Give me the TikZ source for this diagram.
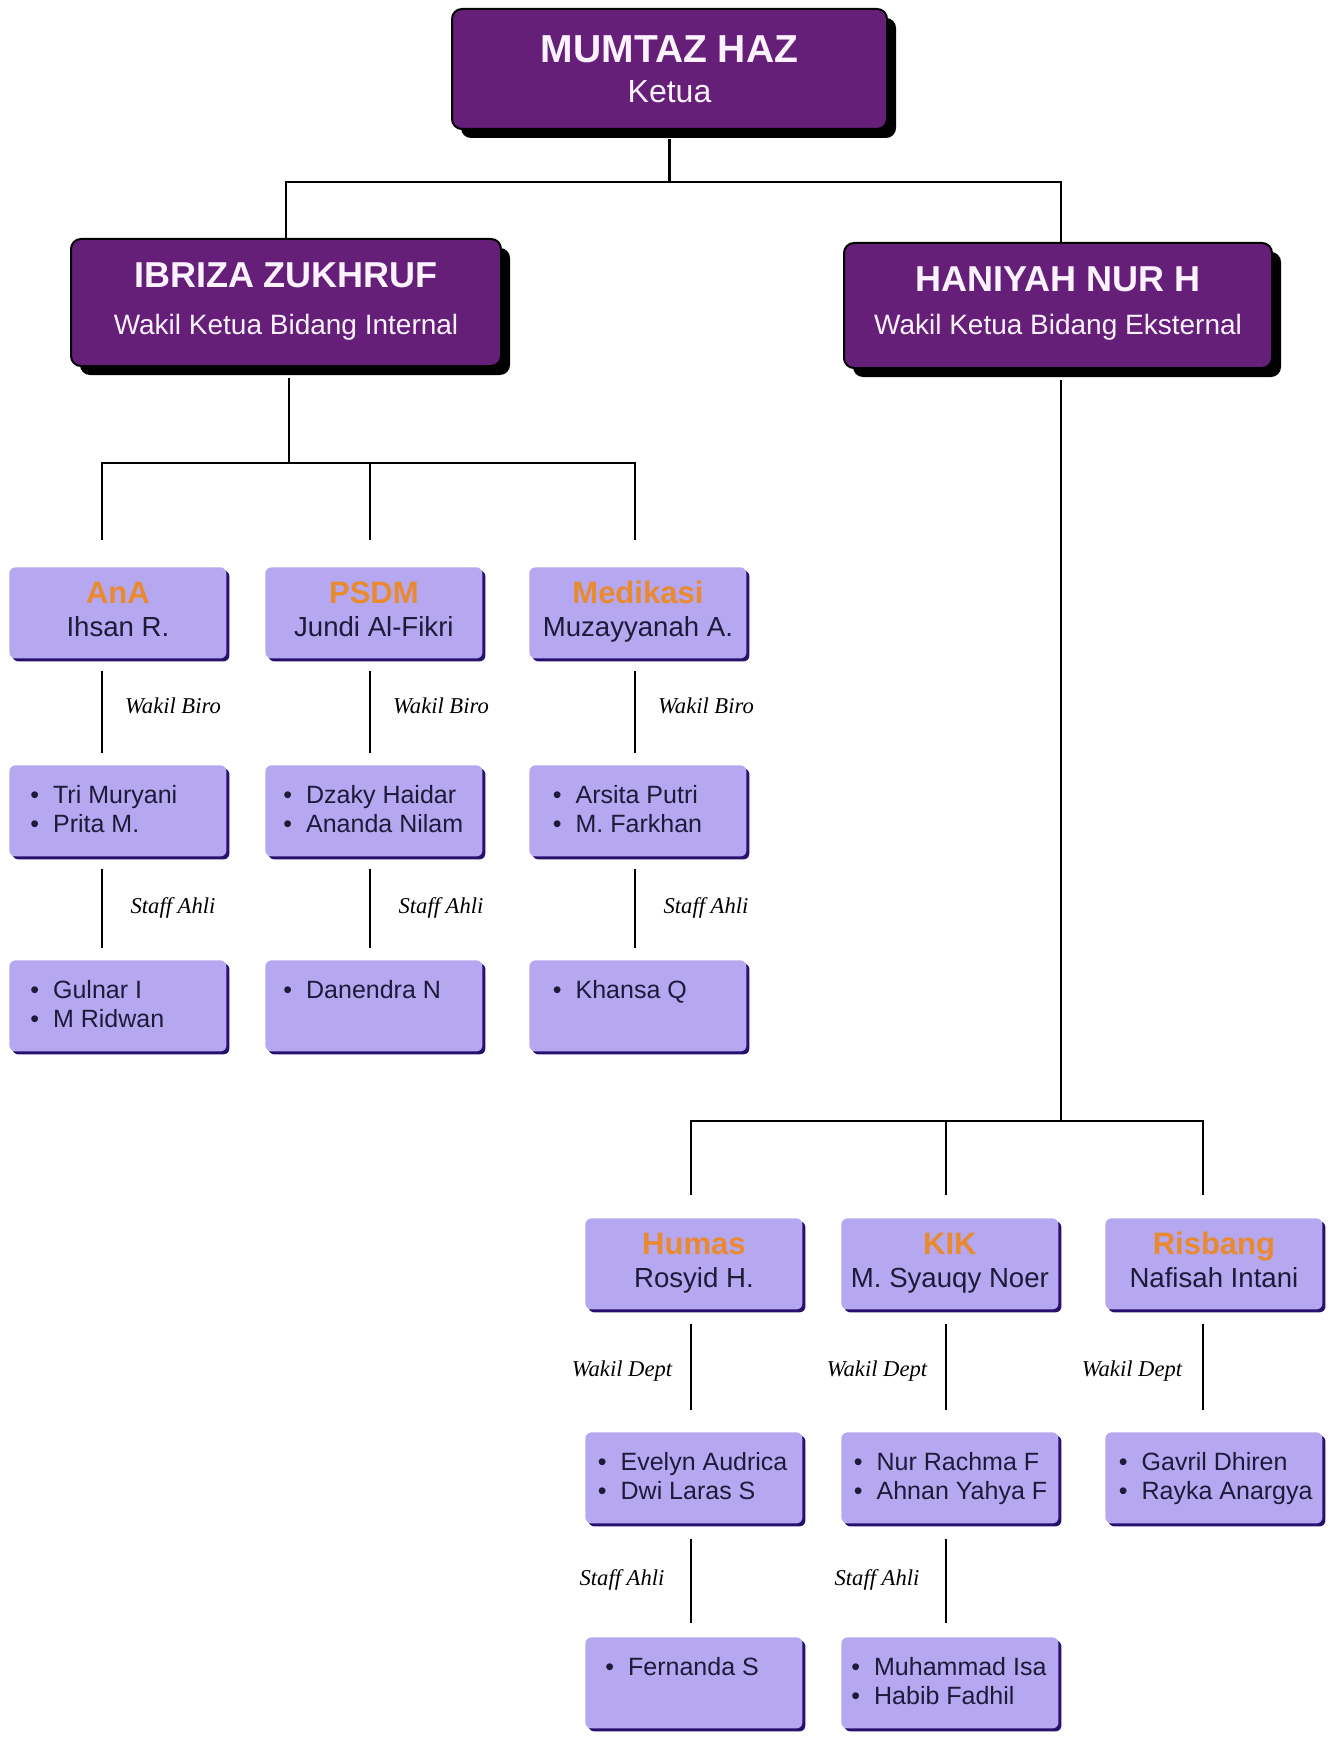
\documentclass[tikz,border=0pt]{standalone}
\usepackage{fontspec}
\setmainfont{Liberation Sans}
\newfontfamily\labfont{Liberation Serif}
\usetikzlibrary{shadows,calc}
\definecolor{purp}{RGB}{101,31,120}
\definecolor{wtext}{RGB}{253,242,255}
\definecolor{lav}{RGB}{181,167,240}
\definecolor{lavsh}{RGB}{40,16,110}
\definecolor{orng}{RGB}{234,138,46}
\definecolor{dtext}{RGB}{30,26,58}
\tikzset{
  conn/.style={draw=black, line width=1.2pt},
  bigbox/.style={draw=black, line width=1pt, fill=purp, rounded corners=5pt, inner sep=0pt,
    general shadow={fill=black, shadow xshift=4.5pt, shadow yshift=-4.5pt}},
  toptitle/.style={anchor=base, text=wtext, font=\bfseries\fontsize{19.5}{23}\selectfont},
  topsub/.style={anchor=base, text=wtext, font=\fontsize{16}{19}\selectfont},
  wtitle/.style={anchor=base, text=wtext, font=\bfseries\fontsize{18}{21}\selectfont},
  wsub/.style={anchor=base, text=wtext, font=\fontsize{14}{17}\selectfont},
  lavbox/.style={fill=lav, rounded corners=3pt, inner sep=0pt, minimum width=108.5pt, minimum height=45.5pt,
    general shadow={fill=lavsh, shadow xshift=1.5pt, shadow yshift=-1.5pt}},
  lavtitle/.style={anchor=base, text=orng, font=\bfseries\fontsize{15.5}{18}\selectfont},
  lavname/.style={anchor=base, text=dtext, font=\fontsize{13.8}{16}\selectfont},
  lavlisttext/.style={anchor=north west, align=left, inner sep=0pt, text=dtext, font=\fontsize{12.5}{14.5}\selectfont},
  lab/.style={font=\labfont\itshape\fontsize{11.3}{13}\selectfont, text=black, inner sep=0pt}
}
\newcommand\bu{\textbullet\hspace{7pt}}
\newcommand\lavhead[5]{%
  \node[lavbox, anchor=north west] (#1) at (#2,#3) {};
  \node[lavtitle] (#1-t) at ($(#1.north)+(0,36.5)$) {#4};
  \node[lavname] (#1-n) at ($(#1.north)+(0,69.5)$) {#5};}
\newcommand\lavlist[5][22]{%
  \node[lavbox, anchor=north west] (#2) at (#3,#4) {};
  \node[lavlisttext] (#2-l) at ($(#2.north west)+(#1,19.5)$) {#5};}
\begin{document}
\begin{tikzpicture}[x=0.5pt,y=-0.5pt]
\useasboundingbox (0,0) rectangle (1331,1738);
\fill[white] (0,0) rectangle (1331,1738);

% ---- junctions and column positions
\coordinate (j0) at (669.5,182);
\coordinate (j1) at (289,463);
\coordinate (j2) at (1061,1121);
\coordinate (dA) at (102,540);
\coordinate (dB) at (370,540);
\coordinate (dC) at (635,540);
\coordinate (dH) at (691,1195);
\coordinate (dK) at (946,1195);
\coordinate (dR) at (1203,1195);
\coordinate (xA) at (102,0);
\coordinate (xB) at (370,0);
\coordinate (xC) at (635,0);
\coordinate (xH) at (691,0);
\coordinate (xK) at (946,0);
\coordinate (xR) at (1203,0);

% ---- top level boxes
\node[bigbox, minimum width=217.5pt, minimum height=60pt] (top) at (669.5,69) {};
\node[toptitle] (top-t) at (669.5,63) {MUMTAZ HAZ};
\node[topsub] (top-s) at (669.5,103) {Ketua};

\node[bigbox, minimum width=215pt, minimum height=63.5pt] (ibr) at (286,302.5) {};
\node[wtitle] (ibr-t) at (286,288) {IBRIZA ZUKHRUF};
\node[wsub] (ibr-s) at (286,335) {Wakil Ketua Bidang Internal};

\node[bigbox, minimum width=214pt, minimum height=62.5pt] (han) at (1058,305.5) {};
\node[wtitle] (han-t) at (1058,292) {HANIYAH NUR H};
\node[wsub] (han-s) at (1058,335) {Wakil Ketua Bidang Eksternal};

% ---- top connectors
\draw[conn] ([yshift=-4.5pt]top.south) -- (j0);
\draw[conn] (ibr.north) |- (j0) -| (han.north -| j2);

% ---- internal side
\draw[conn] ([yshift=-5.5pt]ibr.south -| j1) -- (j1);
\draw[conn] (dA) |- (j1) -| (dC);
\draw[conn] (dB) -- (dB |- j1);

\lavhead{ana}{9}{567}{AnA}{Ihsan R.}
\lavhead{psd}{265}{567}{PSDM}{Jundi Al-Fikri}
\lavhead{med}{529}{567}{Medikasi}{Muzayyanah A.}
\lavlist[21]{ana2}{9}{765}{\bu Tri Muryani\\\bu Prita M.}
\lavlist[18]{psd2}{265}{765}{\bu Dzaky Haidar\\\bu Ananda Nilam}
\lavlist[23.5]{med2}{529}{765}{\bu Arsita Putri\\\bu M. Farkhan}
\lavlist[21]{ana3}{9}{960}{\bu Gulnar I\\\bu M Ridwan}
\lavlist[18]{psd3}{265}{960}{\bu Danendra N}
\lavlist[23.5]{med3}{529}{960}{\bu Khansa Q}

\draw[conn, shorten <=6pt, shorten >=6pt] (ana.south -| xA) -- node[lab, xshift=35.5pt, yshift=3pt] {Wakil Biro} (ana2.north -| xA);
\draw[conn, shorten <=6pt, shorten >=6pt] (psd.south -| xB) -- node[lab, xshift=35.5pt, yshift=3pt] {Wakil Biro} (psd2.north -| xB);
\draw[conn, shorten <=6pt, shorten >=6pt] (med.south -| xC) -- node[lab, xshift=35.5pt, yshift=3pt] {Wakil Biro} (med2.north -| xC);
\draw[conn, shorten <=6pt, shorten >=6pt] (ana2.south -| xA) -- node[lab, xshift=35.5pt] {Staff Ahli} (ana3.north -| xA);
\draw[conn, shorten <=6pt, shorten >=6pt] (psd2.south -| xB) -- node[lab, xshift=35.5pt] {Staff Ahli} (psd3.north -| xB);
\draw[conn, shorten <=6pt, shorten >=6pt] (med2.south -| xC) -- node[lab, xshift=35.5pt] {Staff Ahli} (med3.north -| xC);

% ---- external side
\draw[conn] ([yshift=-5.5pt]han.south -| j2) -- (j2);
\draw[conn] (dH) |- (j2) -| (dR);
\draw[conn] (dK) -- (dK |- j2);

\lavhead{hum}{585}{1218}{Humas}{Rosyid H.}
\lavhead{kik}{841}{1218}{KIK}{M. Syauqy Noer}
\lavhead{ris}{1105}{1218}{Risbang}{Nafisah Intani}
\lavlist[12.5]{hum2}{585}{1432}{\bu Evelyn Audrica\\\bu Dwi Laras S}
\lavlist[12.5]{kik2}{841}{1432}{\bu Nur Rachma F\\\bu Ahnan Yahya F}
\lavlist[13.5]{ris2}{1105}{1432}{\bu Gavril Dhiren\\\bu Rayka Anargya}
\lavlist[20]{hum3}{585}{1637}{\bu Fernanda S}
\lavlist[10]{kik3}{841}{1637}{\bu Muhammad Isa\\\bu Habib Fadhil}

\draw[conn, shorten <=7pt, shorten >=11pt] (hum.south -| xH) -- node[lab, xshift=-34.5pt] {Wakil Dept} (hum2.north -| xH);
\draw[conn, shorten <=7pt, shorten >=11pt] (kik.south -| xK) -- node[lab, xshift=-34.5pt] {Wakil Dept} (kik2.north -| xK);
\draw[conn, shorten <=7pt, shorten >=11pt] (ris.south -| xR) -- node[lab, xshift=-35.5pt] {Wakil Dept} (ris2.north -| xR);
\draw[conn, shorten <=7.5pt, shorten >=7pt] (hum2.south -| xH) -- node[lab, xshift=-34.5pt] {Staff Ahli} (hum3.north -| xH);
\draw[conn, shorten <=7.5pt, shorten >=7pt] (kik2.south -| xK) -- node[lab, xshift=-34.5pt] {Staff Ahli} (kik3.north -| xK);
\end{tikzpicture}
\end{document}
